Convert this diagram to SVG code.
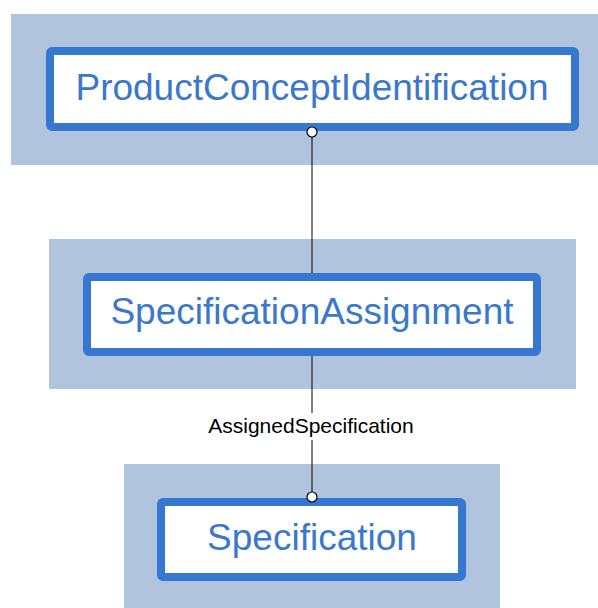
<svg xmlns="http://www.w3.org/2000/svg" width="598" height="608" viewBox="0 0 598 608">
<style>
.bg{fill:#B0C4DE;}
.box{fill:#FFFFFF;stroke:#3677D0;stroke-width:8;}
.t{font-family:"Liberation Sans",Arial,sans-serif;font-size:37px;fill:#3A78CC;text-anchor:middle;}
.lbl{font-family:"Liberation Sans",Arial,sans-serif;font-size:21px;fill:#000000;text-anchor:middle;}
.ln{stroke:#000000;stroke-width:1;fill:none;}
.end{fill:#FFFFFF;stroke:#000000;stroke-width:1.2;}
</style>
<rect width="598" height="608" fill="#FFFFFF"/>
<g id="node-ProductConceptIdentification">
<rect class="bg" x="11" y="14" width="587" height="151"/>
<rect class="box" x="50" y="51" width="525" height="76" rx="2"/>
<text class="t" x="312" y="100">ProductConceptIdentification</text>
</g>
<g id="node-SpecificationAssignment">
<rect class="bg" x="49" y="239" width="527" height="150"/>
<rect class="box" x="87" y="277" width="450" height="75" rx="2"/>
<text class="t" x="312" y="324">SpecificationAssignment</text>
</g>
<g id="node-Specification">
<rect class="bg" x="124" y="464" width="376" height="144"/>
<rect class="box" x="161" y="502" width="301" height="75" rx="2"/>
<text class="t" x="312" y="550">Specification</text>
</g>
<g id="connectors">
<line class="ln" x1="312" y1="137" x2="312" y2="273"/>
<circle class="end" cx="312" cy="132" r="5"/>
<line class="ln" x1="312" y1="356" x2="312" y2="492"/>
<rect x="205" y="413" width="214" height="27" fill="#FFFFFF"/>
<text class="lbl" x="311" y="433">AssignedSpecification</text>
<circle class="end" cx="312" cy="497" r="5"/>
</g>
</svg>
